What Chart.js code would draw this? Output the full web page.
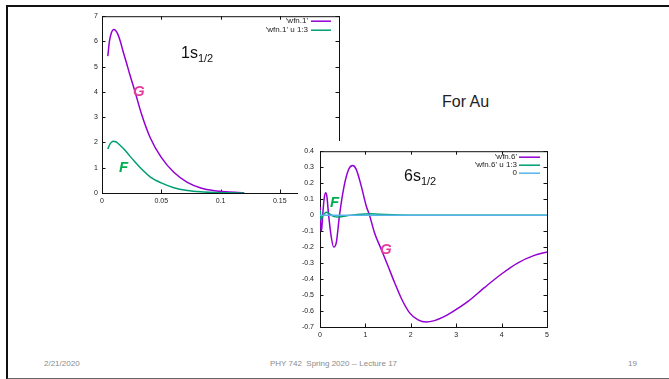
<!DOCTYPE html>
<html>
<head>
<meta charset="utf-8">
<script src="https://cdn.jsdelivr.net/npm/chart.js@4.4.1/dist/chart.umd.min.js"></script>
<style>
  html, body { margin: 0; padding: 0; background: #fff; }
  body { position: relative; width: 669px; height: 379px; overflow: hidden; font-family: "Liberation Sans", Arial, sans-serif; }
  .slide-frame { position: absolute; left: 6px; top: 5px; width: 680px; height: 371px; border-top: 2px solid #111; border-left: 2px solid #111; border-bottom: 2px solid #666; }
  .plot { position: absolute; }
  .plot-6s { background: #fff; }
  .txt { position: absolute; white-space: pre; line-height: 1; }
  .state { font-size: 16px; color: #111; }
  .state sub { font-size: 11px; vertical-align: -4px; }
  .mark { font-size: 15px; font-weight: bold; font-style: italic; }
  .big-g { color: #e4399b; }
  .big-f { color: #00b050; }
  .foot { font-size: 8px; color: #8a8a8a; }
</style>
</head>
<body>
<div class="slide-frame"></div>

<div class="plot" style="left:60px; top:8px; width:290px; height:205px;"><canvas id="chart1s"></canvas></div>
<div class="plot plot-6s" style="left:298px; top:141px; width:262px; height:200px;"><canvas id="chart6s"></canvas></div>

<div class="txt state" style="left:181px; top:45px;">1s<sub>1/2</sub></div>
<div class="txt mark big-g" style="left:133px; top:83px;">G</div>
<div class="txt mark big-f" style="left:119px; top:159px;">F</div>

<div class="txt state" style="left:404px; top:168px;">6s<sub>1/2</sub></div>
<div class="txt mark big-g" style="left:380px; top:241px;">G</div>
<div class="txt mark big-f" style="left:330px; top:194px;">F</div>

<div class="txt" style="left:442px; top:94px; font-size:16px; color:#222;">For Au</div>

<div class="txt foot" style="left:44px; top:360px;">2/21/2020</div>
<div class="txt foot" style="left:270px; top:360px;">PHY 742  Spring 2020 -- Lecture 17</div>
<div class="txt foot" style="left:628px; top:360px;">19</div>

<script>
// 1s_1/2 radial functions
const r1 = [0.0049, 0.0063, 0.0080, 0.0097, 0.0115, 0.0134, 0.0155, 0.0177, 0.0205, 0.0234, 0.0277, 0.0334, 0.0406, 0.05, 0.0606, 0.072, 0.0834, 0.095, 0.105, 0.12];
const g1 = [5.42, 6.01, 6.35, 6.47, 6.43, 6.28, 6.0, 5.62, 5.18, 4.70, 4.04, 3.12, 2.20, 1.41, 0.82, 0.42, 0.20, 0.09, 0.045, 0.01];
const f1 = [1.74, 1.90, 2.01, 2.05, 2.03, 1.97, 1.88, 1.78, 1.63, 1.47, 1.24, 0.95, 0.64, 0.40, 0.21, 0.10, 0.045, 0.018, 0.008, 0.002];
const xTicks1 = [0, 0.05, 0.1, 0.15, 0.2];
const yTicks1 = [0, 1, 2, 3, 4, 5, 6, 7];

// 6s_1/2 radial functions
const r6g = [0.004, 0.012, 0.024, 0.04, 0.06, 0.09, 0.125, 0.15, 0.19, 0.25, 0.30, 0.36, 0.43, 0.53, 0.63, 0.72, 0.80, 0.91, 1.02, 1.09, 1.2, 1.35, 1.5, 1.64, 1.79, 1.97, 2.16, 2.34, 2.52, 2.7, 2.89, 3.26, 3.62, 3.99, 4.35, 4.72, 5.0];
const g6 = [0.05, -0.04, -0.10, -0.08, 0.0, 0.10, 0.14, 0.12, 0.0, -0.14, -0.20, -0.17, 0.0, 0.18, 0.285, 0.31, 0.285, 0.18, 0.056, 0.0, -0.11, -0.215, -0.32, -0.42, -0.52, -0.61, -0.656, -0.669, -0.66, -0.64, -0.61, -0.54, -0.454, -0.37, -0.30, -0.252, -0.23];
const r6f = [0.004, 0.02, 0.05, 0.1, 0.15, 0.2, 0.3, 0.4, 0.5, 0.7, 0.9, 1.1, 1.3, 1.6, 2.0, 3.0, 4.0, 5.0];
const f6 = [0.03, -0.03, -0.01, 0.01, 0.018, 0.01, -0.008, -0.012, -0.008, 0.0, 0.006, 0.008, 0.005, 0.002, 0.0, 0.0, 0.0, 0.0];
const r6zero = [0, 5];
const zero6 = [0, 0];
const xTicks6 = [0, 1, 2, 3, 4, 5];
const yTicks6 = [-0.7, -0.6, -0.5, -0.4, -0.3, -0.2, -0.1, 0, 0.1, 0.2, 0.3, 0.4];

const PURPLE = "#9400d3";
const GREEN = "#009e73";
const CYAN = "#56b4e9";
const TICK_FONT = { family: "'Liberation Sans', Arial, sans-serif", size: 7 };

function pairs(xs, ys) {
  return xs.map((x, i) => ({ x: x, y: ys[i] }));
}

// gnuplot style box with inward, mirrored tick marks
const gnuplotFrame = {
  id: "gnuplotFrame",
  beforeDatasetsDraw(chart) {
    const { ctx, chartArea: a, scales } = chart;
    const len = 3.5;
    ctx.save();
    ctx.strokeStyle = "#111";
    ctx.lineWidth = 1;
    ctx.strokeRect(a.left + 0.5, a.top + 0.5, a.right - a.left, a.bottom - a.top);
    ctx.beginPath();
    scales.x.ticks.forEach((t) => {
      const px = Math.round(scales.x.getPixelForValue(t.value)) + 0.5;
      ctx.moveTo(px, a.bottom); ctx.lineTo(px, a.bottom - len);
      ctx.moveTo(px, a.top); ctx.lineTo(px, a.top + len);
    });
    scales.y.ticks.forEach((t) => {
      const py = Math.round(scales.y.getPixelForValue(t.value)) + 0.5;
      ctx.moveTo(a.left, py); ctx.lineTo(a.left + len, py);
      ctx.moveTo(a.right, py); ctx.lineTo(a.right - len, py);
    });
    ctx.stroke();
    ctx.restore();
  },
};

// gnuplot style key: right aligned title followed by a line sample
const gnuplotKey = {
  id: "gnuplotKey",
  afterDatasetsDraw(chart, args, opts) {
    const { ctx, chartArea: a } = chart;
    ctx.save();
    ctx.font = "8px 'Liberation Sans', Arial, sans-serif";
    ctx.textAlign = "right";
    ctx.textBaseline = "middle";
    chart.data.datasets.forEach((ds, i) => {
      const y = a.top + opts.top + i * opts.rowHeight;
      ctx.fillStyle = "#222";
      ctx.fillText(ds.label, a.right - opts.textRight, y);
      ctx.strokeStyle = ds.borderColor;
      ctx.lineWidth = 1.5;
      ctx.beginPath();
      ctx.moveTo(a.right - opts.lineFrom, y);
      ctx.lineTo(a.right - opts.lineTo, y);
      ctx.stroke();
    });
    ctx.restore();
  },
};

function lineSet(label, data, color, order) {
  return {
    label: label,
    data: data,
    borderColor: color,
    borderWidth: 1.5,
    pointRadius: 0,
    fill: false,
    cubicInterpolationMode: "monotone",
    order: order,
  };
}

function axis(ticks, min, max, pad, fitSize, isX) {
  return {
    type: "linear",
    min: min,
    max: max,
    grid: { display: false, drawTicks: false },
    border: { display: false },
    afterBuildTicks: (scale) => { scale.ticks = ticks.map((v) => ({ value: v })); },
    afterFit: (scale) => { if (isX) scale.height = fitSize; else scale.width = fitSize; },
    ticks: {
      font: TICK_FONT,
      color: "#222",
      padding: pad,
      autoSkip: false,
      maxRotation: 0,
      callback: (v) => String(Math.round(v * 1000) / 1000),
    },
  };
}

function drawChart(id, datasets, scales, padding, key) {
  return new Chart(document.getElementById(id), {
    type: "line",
    data: { datasets: datasets },
    plugins: [gnuplotFrame, gnuplotKey],
    options: {
      responsive: true,
      maintainAspectRatio: false,
      animation: false,
      parsing: true,
      layout: { padding: padding },
      scales: scales,
      plugins: {
        legend: { display: false },
        tooltip: { enabled: false },
        gnuplotKey: key,
      },
    },
  });
}

drawChart(
  "chart1s",
  [
    lineSet("'wfn.1'", pairs(r1, g1), PURPLE, 2),
    lineSet("'wfn.1' u 1:3", pairs(r1, f1), GREEN, 1),
  ],
  {
    x: axis(xTicks1, 0, 0.2, 4, 20, true),
    y: axis(yTicks1, 0, 7, 4, 42, false),
  },
  { left: 0, top: 8, right: 11, bottom: 0 },
  { top: 5, rowHeight: 9, textRight: 31, lineFrom: 28, lineTo: 8 }
);

drawChart(
  "chart6s",
  [
    lineSet("'wfn.6'", pairs(r6g, g6), PURPLE, 3),
    lineSet("'wfn.6' u 1:3", pairs(r6f, f6), GREEN, 2),
    lineSet("0", pairs(r6zero, zero6), CYAN, 1),
  ],
  {
    x: axis(xTicks6, 0, 5, 4, 14, true),
    y: axis(yTicks6, -0.7, 0.4, 6, 22, false),
  },
  { left: 0, top: 9, right: 13, bottom: 0 },
  { top: 6, rowHeight: 8, textRight: 30, lineFrom: 28, lineTo: 7 }
);
</script>
</body>
</html>
